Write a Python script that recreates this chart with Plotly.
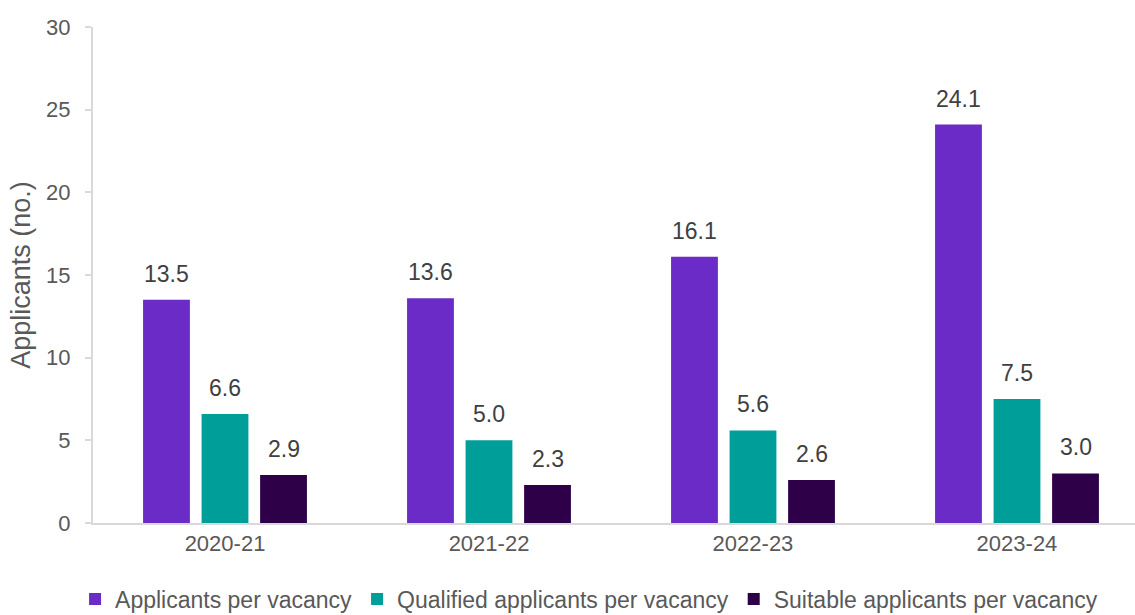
import plotly.graph_objects as go

categories = ["2020-21", "2021-22", "2022-23", "2023-24"]
applicants = [13.5, 13.6, 16.1, 24.1]
qualified = [6.6, 5.0, 5.6, 7.5]
suitable = [2.9, 2.3, 2.6, 3.0]
series_names = ["Applicants per vacancy", "Qualified applicants per vacancy", "Suitable applicants per vacancy"]
colors = ["#6A2BC6", "#009E98", "#2E0048"]
y_ticks = [0, 5, 10, 15, 20, 25, 30]

FONT = "Liberation Sans, Arial, sans-serif"
W, H = 1135, 615
ML, MR, MT, MB = 93, 0, 27, 92
XRANGE = [-0.5, 3.447]
BARGAP, GROUPGAP = 0.335, 0.2

fig = go.Figure()
all_series = [applicants, qualified, suitable]
for name, vals, col in zip(series_names, all_series, colors):
    fig.add_trace(go.Bar(
        x=categories, y=vals, name=name,
        marker=dict(color=col, line=dict(width=0)),
        cliponaxis=False, hoverinfo="skip",
    ))

# data labels above each bar
cat_px = (W - ML - MR) / (XRANGE[1] - XRANGE[0])
slot_px = (1 - BARGAP) * cat_px / len(all_series)
for i, vals in enumerate(all_series):
    off = (i - (len(all_series) - 1) / 2) * slot_px
    for c, v in zip(categories, vals):
        fig.add_annotation(x=c, y=v, xref="x", yref="y", text=f"{v:.1f}",
                           showarrow=False, xshift=off, yshift=11, yanchor="bottom",
                           font=dict(size=23, color="#404040", family=FONT))

fig.update_layout(
    width=W, height=H,
    margin=dict(l=ML, r=MR, t=MT, b=MB, autoexpand=False),
    paper_bgcolor="white", plot_bgcolor="white",
    barmode="group", bargap=BARGAP, bargroupgap=GROUPGAP,
    font=dict(family=FONT, size=22, color="#595959"),
    showlegend=True,
    legend=dict(orientation="h", xref="container", x=0.519, xanchor="center",
                yref="container", y=0.026, yanchor="middle",
                font=dict(size=23, color="#595959", family=FONT),
                itemwidth=30, traceorder="normal"),
)
fig.update_xaxes(range=XRANGE, showline=True, linecolor="#d9d9d9", linewidth=2,
                 ticks="", tickfont=dict(size=22, color="#595959"), showgrid=False)
fig.update_yaxes(range=[0, 30], tickvals=y_ticks, showline=True, linecolor="#d9d9d9", linewidth=2,
                 ticks="outside", ticklen=6, tickcolor="#d9d9d9", tickwidth=2,
                 showgrid=False, zeroline=False,
                 tickfont=dict(size=22, color="#595959"), ticklabelstandoff=10,
                 title=dict(text="Applicants (no.)", font=dict(size=27, color="#595959"), standoff=8))

fig.write_html("out.html", config={"displayModeBar": False})

# remove default page margin so the figure sits at the window's top-left corner
with open("out.html", "r", encoding="utf-8") as f:
    html = f.read()
html = html.replace("<body>", '<body style="margin:0;padding:0;overflow:hidden;">', 1)
with open("out.html", "w", encoding="utf-8") as f:
    f.write(html)
